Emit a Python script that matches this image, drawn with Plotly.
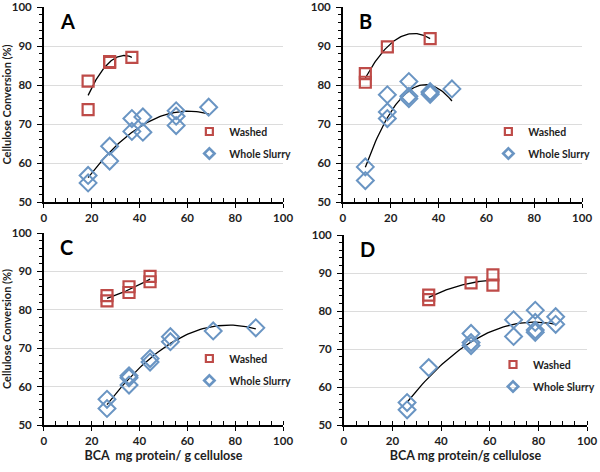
import numpy as np
import plotly.graph_objects as go

# ---------------- data ----------------
# Panel A
a_washed_x = [18.5, 18.5, 27.5, 27.5, 36.8]
a_washed_y = [81.0, 73.7, 86.0, 85.8, 87.1]
a_slurry_x = [18.5, 18.5, 27.5, 27.5, 36.8, 36.8, 41.4, 41.4, 55.3, 55.3, 55.3, 68.9]
a_slurry_y = [56.8, 54.9, 64.3, 60.5, 71.4, 68.1, 71.8, 67.9, 73.4, 72.0, 69.6, 74.3]
# Panel B
b_washed_x = [9.4, 9.4, 18.6, 36.5]
b_washed_y = [82.9, 80.7, 89.8, 91.9]
b_slurry_x = [9.4, 9.4, 18.6, 18.6, 18.6, 27.6, 27.6, 27.6, 36.5, 36.5, 36.5, 45.6]
b_slurry_y = [59.0, 55.5, 77.5, 73.1, 71.4, 80.9, 77.1, 76.5, 78.3, 78.0, 77.6, 79.0]
# Panel C
c_washed_x = [26.4, 26.4, 35.6, 35.6, 44.4, 44.4]
c_washed_y = [83.7, 82.3, 86.0, 84.5, 88.7, 87.3]
c_slurry_x = [26.4, 26.4, 35.6, 35.6, 35.6, 44.4, 44.4, 52.9, 52.9, 70.8, 88.6]
c_slurry_y = [56.7, 54.3, 62.8, 62.3, 60.4, 67.3, 66.4, 73.0, 71.7, 74.5, 75.3]
# Panel D
d_washed_x = [34.9, 34.9, 52.3, 61.3, 61.3]
d_washed_y = [84.2, 83.0, 87.4, 89.5, 86.8]
d_slurry_x = [26.0, 26.0, 34.9, 52.3, 52.3, 52.3, 69.8, 69.8, 78.7, 78.7, 78.7, 78.7, 87.1, 87.1]
d_slurry_y = [55.9, 54.0, 65.1, 74.1, 71.7, 70.9, 77.7, 73.3, 80.2, 77.0, 75.0, 74.4, 78.5, 76.5]

panel_labels = ["A", "B", "C", "D"]
series_names = ["Washed", "Whole Slurry"]
x_titles = ["", "", "BCA  mg protein/ g cellulose", "BCA mg protein/g cellulose"]
y_title = "Cellulose Conversion (%)"

panels = [
    (a_washed_x, a_washed_y, a_slurry_x, a_slurry_y),
    (b_washed_x, b_washed_y, b_slurry_x, b_slurry_y),
    (c_washed_x, c_washed_y, c_slurry_x, c_slurry_y),
    (d_washed_x, d_washed_y, d_slurry_x, d_slurry_y),
]

RED = "#BE4B48"
BLUE = "#6A95C3"
FONT = "Lato"
TXT = "#1e1e1e"

W, H = 600, 472
# plot-area pixel boxes (left, right, top, bottom)
boxes = [(44, 284, 7, 202), (344, 584, 7, 202), (44, 284, 233, 425), (345, 589, 235, 425)]
# legend top-left anchors (px)
legend_pos = [(190, 117), (490, 117), (190, 344), (495, 350)]

fig = go.Figure()

def trend(x, y):
    x = np.asarray(x, float)
    y = np.asarray(y, float)
    c = np.polyfit(x, y, 2)
    xs = np.linspace(x.min(), x.max(), 60)
    return xs, np.polyval(c, xs)

for i, (wx, wy, sx, sy) in enumerate(panels):
    n = "" if i == 0 else str(i + 1)
    xa, ya = "x" + n, "y" + n
    lg = "legend" + n
    for (px, py) in [(wx, wy), (sx, sy)]:
        tx, ty = trend(px, py)
        fig.add_trace(go.Scatter(x=tx, y=ty, mode="lines", xaxis=xa, yaxis=ya,
                                 line=dict(color="black", width=1.3),
                                 showlegend=False, hoverinfo="skip"))
    fig.add_trace(go.Scatter(x=wx, y=wy, mode="markers", name=series_names[0],
                             xaxis=xa, yaxis=ya, showlegend=False,
                             marker=dict(symbol="square-open", size=11, color=RED,
                                         line=dict(width=2.2, color=RED))))
    fig.add_trace(go.Scatter(x=sx, y=sy, mode="markers", name=series_names[1],
                             xaxis=xa, yaxis=ya, showlegend=False,
                             marker=dict(symbol="diamond-open", size=13, color=BLUE,
                                         line=dict(width=2, color=BLUE))))
    # legend entries (smaller symbols as in the original legend)
    fig.add_trace(go.Scatter(x=[None], y=[None], mode="markers", name=series_names[0],
                             xaxis=xa, yaxis=ya, legend=lg, showlegend=True,
                             legendgroup="w%d" % i,
                             marker=dict(symbol="square-open", size=7, color=RED,
                                         line=dict(width=2.2, color=RED))))
    fig.add_trace(go.Scatter(x=[None], y=[None], mode="markers", name=series_names[1],
                             xaxis=xa, yaxis=ya, legend=lg, showlegend=True,
                             legendgroup="s%d" % i,
                             marker=dict(symbol="diamond-open", size=8, color=BLUE,
                                         line=dict(width=2.6, color=BLUE))))

    l, r, t, b = boxes[i]
    xdom = [l / W, r / W]
    ydom = [1 - b / H, 1 - t / H]
    xaxis = dict(domain=xdom, anchor=ya, range=[0, 100], dtick=20, showgrid=False,
                 zeroline=False, showline=True, linecolor="black", linewidth=1.5,
                 ticks="outside", ticklen=4, tickwidth=1.3, tickcolor="black",
                 minor=dict(dtick=5, ticks="inside", ticklen=4, tickwidth=1.2, tickcolor="black"),
                 tickfont=dict(family=FONT, size=11.5, color=TXT, weight="bold"),
                 automargin=False,
                 title=dict(text=x_titles[i], font=dict(family=FONT, size=12.5, color=TXT, weight="bold"),
                            standoff=6))
    yaxis = dict(domain=ydom, anchor=xa, range=[50, 100], dtick=10, showgrid=True,
                 gridcolor="#DCDCDC", gridwidth=1, zeroline=False, showline=True,
                 linecolor="black", linewidth=1.5,
                 ticks="outside", ticklen=5, tickwidth=1.3, tickcolor="black",
                 minor=dict(dtick=2, ticks="outside", ticklen=3, tickwidth=1.1, tickcolor="black",
                            showgrid=False),
                 tickfont=dict(family=FONT, size=11.5, color=TXT, weight="bold"),
                 ticklabelstandoff=3, automargin=False,
                 title=dict(text=y_title if i in (0, 2) else "",
                            font=dict(family=FONT, size=11, color=TXT, weight="bold"), standoff=7))
    fig.layout["xaxis" + n] = xaxis
    fig.layout["yaxis" + n] = yaxis
    lx, ly = legend_pos[i]
    fig.layout[lg] = dict(x=lx / W, y=1 - ly / H, xanchor="left", yanchor="top",
                          bgcolor="rgba(0,0,0,0)",
                          font=dict(family=FONT, size=10.5, color=TXT, weight="bold"),
                          tracegroupgap=3, itemwidth=30)
    fig.add_annotation(text="<b>%s</b>" % panel_labels[i], xref="paper", yref="paper",
                       x=(l + 14) / W, y=1 - t / H, xanchor="left", yanchor="top",
                       showarrow=False, font=dict(family=FONT, size=20, color="black"))

fig.update_layout(width=W, height=H, margin=dict(l=0, r=0, t=0, b=0),
                  plot_bgcolor="white", paper_bgcolor="white",
                  font=dict(family=FONT, color=TXT))

fig.write_html("out.html", config={"displayModeBar": False},
               post_script="document.body.style.margin='0';document.body.style.overflow='hidden';")
